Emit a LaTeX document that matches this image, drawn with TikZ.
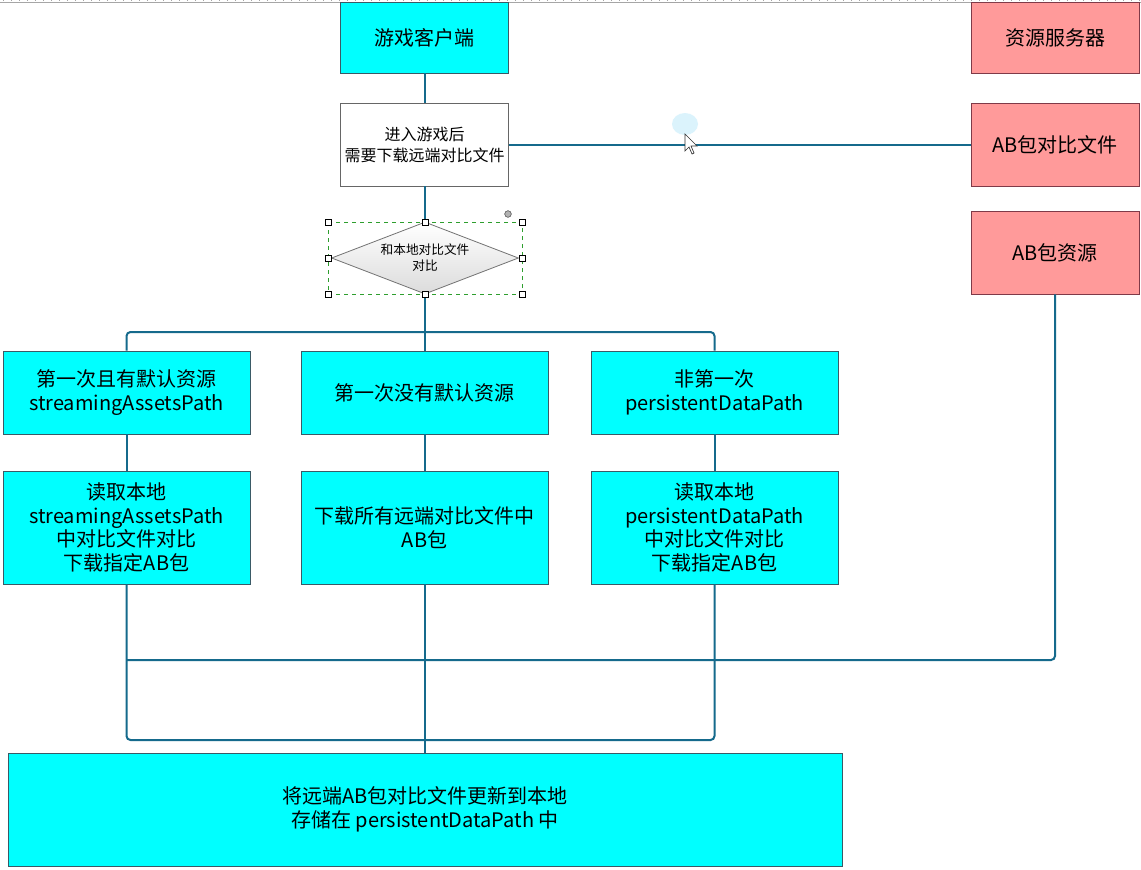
\documentclass[tikz,border=0pt]{standalone}
\usepackage{fontspec}
\setmainfont{Noto Sans CJK SC}
\usetikzlibrary{shapes.geometric}
\definecolor{cyanfill}{HTML}{00FFFF}
\definecolor{cyanline}{HTML}{3A5A66}
\definecolor{pinkfill}{HTML}{FF9A9A}
\definecolor{pinkline}{HTML}{7F3A48}
\definecolor{connc}{HTML}{156A8C}
\definecolor{selgreen}{HTML}{2E9E2E}
\tikzset{
  cbox/.style={draw=cyanline, line width=0.6pt, fill=cyanfill, align=center, inner sep=0pt,
    font=\fontsize{15}{17.6}\selectfont},
  pbox/.style={draw=pinkline, line width=0.6pt, fill=pinkfill, align=center, inner sep=0pt,
    minimum width=126pt, font=\fontsize{15}{17.6}\selectfont},
  wbox/.style={draw=gray!80!black, line width=0.6pt, fill=white, align=center, inner sep=0pt,
    minimum width=126pt, minimum height=62.25pt, font=\fontsize{12}{15.75}\selectfont},
  rowbox/.style={cbox, minimum width=185.25pt},
  conn/.style={draw=connc, line width=1.5pt, rounded corners=3pt},
  handle/.style={draw=black, fill=white, line width=0.4pt, minimum size=4.5pt, inner sep=0pt}
}
\begin{document}
\begin{tikzpicture}[x=0.75pt,y=-0.75pt]
\useasboundingbox (0,0) rectangle (1141,869);
\fill[white] (0,0) rectangle (1141,869);
% top ruler
\draw[gray!70, line width=0.6pt] (0,2) -- (1141,2);
\draw[gray!70, line width=0.6pt, dash pattern=on 0.6pt off 5.4pt] (3,0.5) -- (1141,0.5);

% nodes
\node[cbox, minimum width=126pt, minimum height=53.25pt] (client) at (424.5,37.5) {游戏客户端};
\node[pbox, minimum height=53.25pt] (server) at (1055,37.5) {资源服务器};
\node[wbox] (enter) at (424.5,144.5) {进入游戏后\\需要下载远端对比文件};
\node[pbox, minimum height=62.25pt] (abcmp) at (1055,144.5) {AB包对比文件};
\node[pbox, minimum height=62.25pt] (abres) at (1055,252.5) {AB包资源};

\node[diamond, draw=gray!90!black, line width=0.6pt, top color=white, bottom color=gray!28,
  minimum width=140.25pt, minimum height=54pt, inner sep=0pt, aspect=2.6, align=center,
  font=\fontsize{9.5}{12}\selectfont] (dia) at (425,258) {和本地对比文件\\对比};

\node[rowbox, minimum height=62.25pt] (r1a) at (126.5,392.5) {第一次且有默认资源\\streamingAssetsPath};
\node[rowbox, minimum height=62.25pt] (r1b) at (424.5,392.5) {第一次没有默认资源};
\node[rowbox, minimum height=62.25pt] (r1c) at (714.5,392.5) {非第一次\\persistentDataPath};

\node[rowbox, minimum height=84.75pt] (r2a) at (126.5,527.5) {读取本地\\streamingAssetsPath\\中对比文件对比\\下载指定AB包};
\node[rowbox, minimum height=84.75pt] (r2b) at (424.5,527.5) {下载所有远端对比文件中\\AB包};
\node[rowbox, minimum height=84.75pt] (r2c) at (714.5,527.5) {读取本地\\persistentDataPath\\中对比文件对比\\下载指定AB包};

\node[cbox, minimum width=625.5pt, minimum height=84.75pt] (final) at (425,809.5)
  {将远端AB包对比文件更新到本地\\存储在 persistentDataPath 中};

% selection decoration around diamond
\draw[selgreen, dashed, line width=0.5pt] (328,222) rectangle (522,294);

% connectors
\coordinate (split) at (424.5,332);
\coordinate (merge) at (424.5,740);
\coordinate (join) at (126.5,660);
\draw[conn] (client) -- (enter);
\draw[conn] (enter) -- (abcmp);
\draw[conn] (enter.south) -- (enter.south |- dia.north);
\draw[conn] (dia.south -| r1b.north) -- (r1b.north);
\draw[conn] (split) -| (r1a.north);
\draw[conn] (split) -| (r1c.north);
\draw[conn] (r1a) -- (r2a);
\draw[conn] (r1b) -- (r2b);
\draw[conn] (r1c) -- (r2c);
\draw[conn] (r2a.south) |- (merge);
\draw[conn] (r2c.south) |- (merge);
\draw[conn] (merge) -- (merge |- final.north);
\draw[conn] (r2b.south) -- (r2b.south |- final.north);
\draw[conn] (abres.south) |- (join);

% selection handles
\foreach \hx/\hy [count=\i] in {328/222,425/222,522/222,328/258,522/258,328/294,425/294,522/294}
  \node[handle] (h\i) at (\hx,\hy) {};
\node[circle, draw=gray!60!black, fill=gray!60, minimum size=5pt, inner sep=0pt] (rot) at (508,214) {};

% mouse cursor
\fill[cyan!20, opacity=0.7] (685,124) ellipse (13 and 11);
\filldraw[fill=white, draw=black!80, line width=0.5pt]
  (685,134) -- (685,151) -- (689,147) -- (692,154) -- (694,153) -- (691,146) -- (697,146) -- cycle;
\end{tikzpicture}
\end{document}
